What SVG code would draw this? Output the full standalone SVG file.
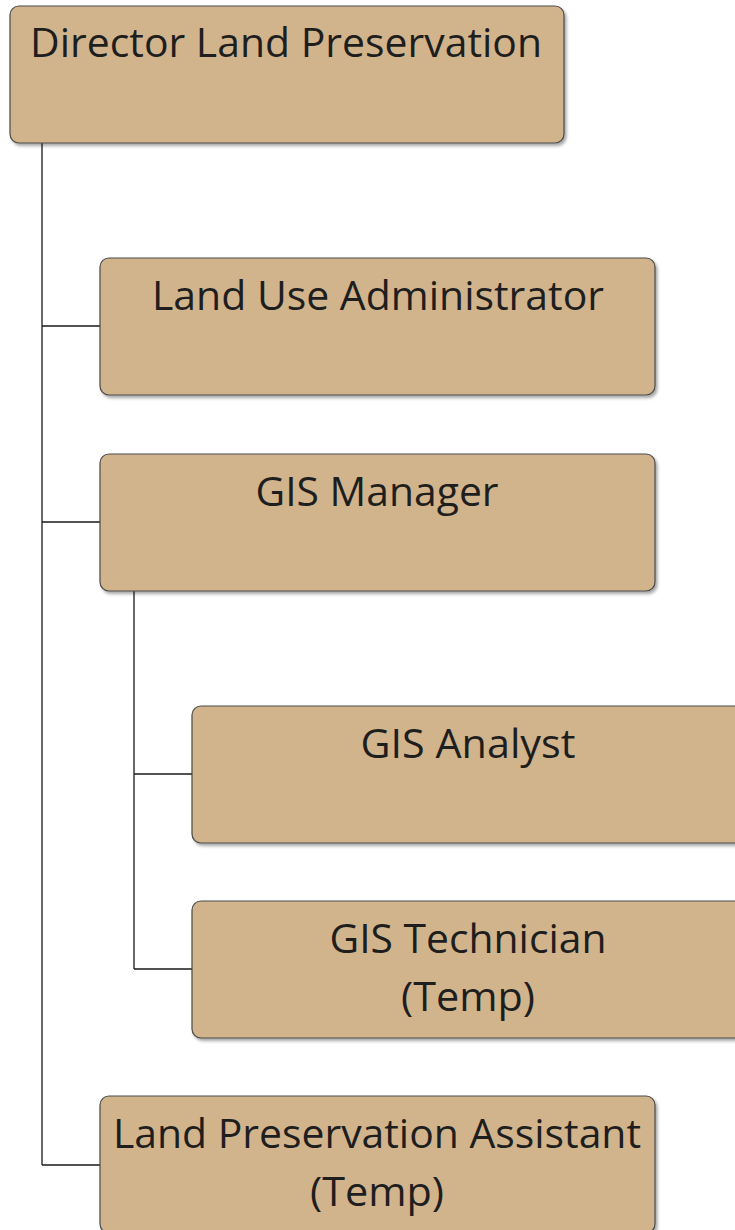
<svg xmlns="http://www.w3.org/2000/svg" width="735" height="1230" viewBox="0 0 735 1230">
<style>
.box{fill:#D2B48C;stroke:#4a4a4a;stroke-width:1.2;filter:url(#sh)}
.t{font-family:"Open Sans","Liberation Sans",sans-serif;font-size:40px;fill:#1e1e1e;text-anchor:middle}
.c{stroke:#1a1a1a;stroke-width:1.3;fill:none}
</style>
<defs>
<filter id="sh" x="-5%" y="-5%" width="110%" height="115%">
<feDropShadow dx="2" dy="2.5" stdDeviation="1.5" flood-color="#000" flood-opacity="0.35"/>
</filter>
</defs>
<rect width="735" height="1230" fill="#fff"/>
<g id="connectors">
<path class="c" d="M42 143V1165M42 326H100M42 522H100M42 1165H100"/>
<path class="c" d="M134 591V969M134 774H192M134 969H192"/>
</g>
<g id="director">
<rect class="box" x="10" y="6" width="554" height="137" rx="9"/>
<text class="t" x="286" y="57" textLength="512" lengthAdjust="spacingAndGlyphs">Director Land Preservation</text>
</g>
<g id="land-use-admin">
<rect class="box" x="100" y="258" width="555" height="137" rx="9"/>
<text class="t" x="378" y="310" textLength="452" lengthAdjust="spacingAndGlyphs">Land Use Administrator</text>
</g>
<g id="gis-manager">
<rect class="box" x="100" y="454" width="555" height="137" rx="9"/>
<text class="t" x="377" y="506" textLength="243" lengthAdjust="spacingAndGlyphs">GIS Manager</text>
</g>
<g id="gis-analyst">
<rect class="box" x="192" y="706" width="555" height="137" rx="9"/>
<text class="t" x="468" y="758" textLength="215" lengthAdjust="spacingAndGlyphs">GIS Analyst</text>
</g>
<g id="gis-technician">
<rect class="box" x="192" y="901" width="555" height="137" rx="9"/>
<text class="t" x="468" y="953" textLength="277" lengthAdjust="spacingAndGlyphs">GIS Technician</text>
<text class="t" x="468" y="1011" textLength="134" lengthAdjust="spacingAndGlyphs">(Temp)</text>
</g>
<g id="land-preservation-assistant">
<rect class="box" x="100" y="1096" width="555" height="137" rx="9"/>
<text class="t" x="377" y="1148" textLength="528" lengthAdjust="spacingAndGlyphs">Land Preservation Assistant</text>
<text class="t" x="377" y="1206" textLength="134" lengthAdjust="spacingAndGlyphs">(Temp)</text>
</g>
</svg>
